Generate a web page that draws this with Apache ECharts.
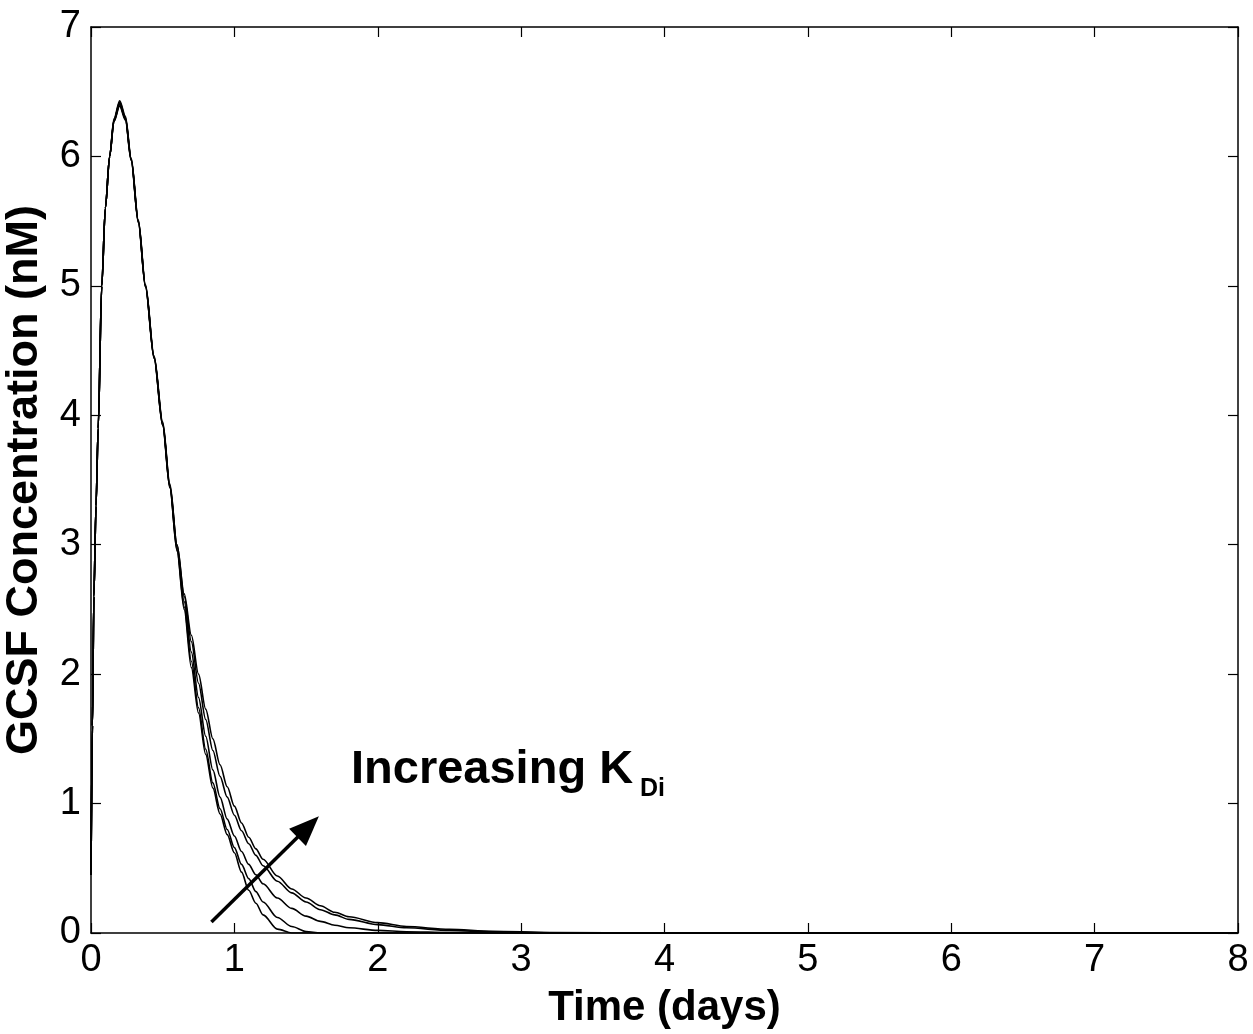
<!DOCTYPE html>
<html>
<head>
<meta charset="utf-8">
<script src="https://cdn.jsdelivr.net/npm/echarts@6/dist/echarts.min.js"></script>
<style>
  html, body { margin: 0; padding: 0; background: #fff; }
  #chart { width: 1253px; height: 1034px; }
</style>
</head>
<body>
<div id="chart"></div>
<script>
// Time grid (days) shared by all simulated profiles
const timeDays = [0, 0.01, 0.02, 0.035, 0.05, 0.075, 0.1, 0.13, 0.16, 0.2, 0.24, 0.28, 0.33, 0.38, 0.44, 0.5, 0.55,
  0.6, 0.65, 0.7, 0.75, 0.8, 0.85, 0.9, 0.95, 1.0, 1.05, 1.1, 1.15, 1.2, 1.3, 1.4, 1.5, 1.6, 1.7, 1.8, 2.0, 2.2, 2.5, 2.8, 3.2, 4, 8];

// GCSF concentration (nM), one profile per K_Di value (smallest to largest)
const gcsfKd1 = [0.45, 1.6, 2.6, 3.3, 3.9, 5.0, 5.6, 6.0, 6.27, 6.39, 6.28, 5.97, 5.49, 4.99, 4.44, 3.92, 3.44,
  2.95, 2.5, 2.05, 1.7, 1.38, 1.12, 0.92, 0.76, 0.62, 0.47, 0.33, 0.23, 0.14, 0.03, 0, 0, 0, 0, 0, 0, 0, 0, 0, 0, 0, 0];
const gcsfKd2 = [0.45, 1.6, 2.6, 3.3, 3.9, 5.0, 5.6, 6.0, 6.27, 6.4, 6.29, 5.97, 5.49, 4.99, 4.44, 3.92, 3.44,
  2.96, 2.52, 2.1, 1.74, 1.42, 1.16, 0.96, 0.8, 0.66, 0.53, 0.42, 0.32, 0.24, 0.12, 0.05, 0.012, 0, 0, 0, 0, 0, 0, 0, 0, 0, 0];
const gcsfKd3 = [0.45, 1.6, 2.6, 3.3, 3.9, 5.0, 5.6, 6.0, 6.28, 6.41, 6.29, 5.98, 5.5, 5.0, 4.45, 3.93, 3.45,
  2.98, 2.56, 2.17, 1.82, 1.52, 1.26, 1.05, 0.88, 0.75, 0.63, 0.53, 0.45, 0.38, 0.27, 0.19, 0.13, 0.09, 0.06, 0.04, 0.02, 0.01, 0.003, 0, 0, 0, 0];
const gcsfKd4 = [0.45, 1.6, 2.6, 3.3, 3.9, 5.0, 5.6, 6.0, 6.28, 6.42, 6.3, 5.98, 5.5, 5.0, 4.45, 3.94, 3.46,
  3.0, 2.6, 2.25, 1.93, 1.65, 1.41, 1.21, 1.05, 0.91, 0.79, 0.69, 0.6, 0.52, 0.4, 0.31, 0.24, 0.18, 0.14, 0.105, 0.065, 0.04, 0.02, 0.009, 0.002, 0, 0];
const gcsfKd5 = [0.45, 1.6, 2.6, 3.3, 3.9, 5.0, 5.6, 6.0, 6.29, 6.43, 6.31, 5.99, 5.51, 5.01, 4.46, 3.95, 3.47,
  3.0, 2.62, 2.3, 2.0, 1.73, 1.5, 1.3, 1.13, 0.98, 0.85, 0.74, 0.65, 0.57, 0.44, 0.34, 0.27, 0.21, 0.16, 0.125, 0.08, 0.05, 0.028, 0.014, 0.004, 0, 0];

const profiles = [gcsfKd1, gcsfKd2, gcsfKd3, gcsfKd4, gcsfKd5];

// Arrow showing the direction of increasing K_Di (data coordinates; end = arrowhead centre)
const arrowStart = [0.84, 0.085];
const arrowEnd = [1.515, 0.82];

const FONT = '"Liberation Sans", Arial, Helvetica, sans-serif';

const chart = echarts.init(document.getElementById('chart'), null, { renderer: 'canvas' });

const tickStyle = { color: '#000', width: 1.2 };
const frameLine = { show: true, onZero: false, lineStyle: { color: '#000', width: 1.5 } };
const innerTicks = { show: true, inside: true, length: 10, lineStyle: tickStyle };

const series = profiles.map((vals) => ({
  type: 'line',
  data: timeDays.map((t, k) => [t, vals[k]]),
  showSymbol: false,
  smooth: 0.3,
  smoothMonotone: 'x',
  lineStyle: { color: '#000', width: 1.6 },
  silent: true,
  z: 3
}));

series.push({
  type: 'line',
  data: [],
  silent: true,
  markLine: {
    silent: true,
    symbol: ['none', 'triangle'],
    symbolSize: [24, 30],
    label: { show: false },
    lineStyle: { color: '#000', width: 3.5, type: 'solid' },
    data: [[{ coord: arrowStart }, { coord: arrowEnd }]]
  }
});

chart.setOption({
  animation: false,
  backgroundColor: '#fff',
  grid: { left: 91, right: 15, top: 27, bottom: 101, containLabel: false, outerBoundsMode: 'none' },
  xAxis: [{
    type: 'value', min: 0, max: 8, interval: 1,
    name: 'Time (days)', nameLocation: 'middle', nameGap: 54,
    nameTextStyle: { fontFamily: FONT, fontSize: 42, fontWeight: 'bold', color: '#000' },
    axisLine: frameLine,
    axisTick: innerTicks,
    axisLabel: { fontFamily: FONT, fontSize: 38, color: '#000', margin: 9 },
    splitLine: { show: false }
  }, {
    type: 'value', min: 0, max: 8, interval: 1, position: 'top',
    axisLine: frameLine,
    axisTick: innerTicks,
    axisLabel: { show: false },
    splitLine: { show: false }
  }],
  yAxis: [{
    type: 'value', min: 0, max: 7, interval: 1,
    name: 'GCSF Concentration (nM)', nameLocation: 'middle', nameGap: 44, nameRotate: 90,
    nameTextStyle: { fontFamily: FONT, fontSize: 45, fontWeight: 'bold', color: '#000' },
    axisLine: frameLine,
    axisTick: innerTicks,
    axisLabel: { fontFamily: FONT, fontSize: 38, color: '#000', margin: 10 },
    splitLine: { show: false }
  }, {
    type: 'value', min: 0, max: 7, interval: 1, position: 'right',
    axisLine: frameLine,
    axisTick: innerTicks,
    axisLabel: { show: false },
    splitLine: { show: false }
  }],
  graphic: [{
    type: 'text', left: 351, top: 747, silent: true,
    style: { text: 'Increasing K', fill: '#000', font: 'bold 47px ' + FONT }
  }, {
    type: 'text', left: 640, top: 777, silent: true,
    style: { text: 'Di', fill: '#000', font: 'bold 25px ' + FONT }
  }],
  series: series
});
</script>
</body>
</html>
